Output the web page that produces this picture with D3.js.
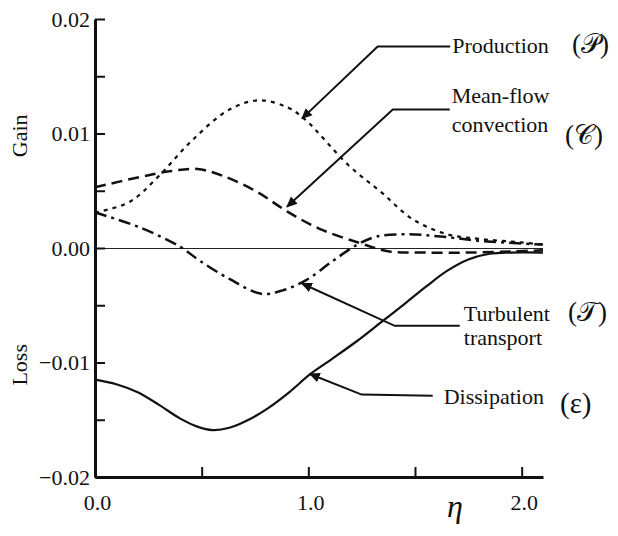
<!DOCTYPE html>
<html lang="en">
<head>
<meta charset="UTF-8">
<script src="https://d3js.org/d3.v7.min.js"></script>
<style>
  body { margin: 0; background: #fff; }
  svg text { font-family: "Liberation Serif", "Times New Roman", serif; fill: #111; }
</style>
</head>
<body>
<div id="chart"></div>
<script>
// values (eta, budget term)
const productionEta = [0, 0.16, 0.30, 0.45, 0.63, 0.77, 0.90, 0.98, 1.19, 1.34, 1.49, 1.65, 1.80, 1.99, 2.1];
const productionVal = [0.0031, 0.0040, 0.0063, 0.0093, 0.0121, 0.0129, 0.0123, 0.0113, 0.0072, 0.0049, 0.0025, 0.0012, 0.0008, 0.0005, 0.0003];

const convectionEta = [0, 0.21, 0.35, 0.48, 0.60, 0.76, 0.90, 1.05, 1.23, 1.38, 1.55, 1.75, 1.95, 2.1];
const convectionVal = [0.0053, 0.0062, 0.0067, 0.0069, 0.0063, 0.0049, 0.0032, 0.0017, 0.0005, -0.0003, -0.0004, -0.0004, -0.0003, -0.0002];

const transportEta = [0, 0.21, 0.40, 0.49, 0.63, 0.78, 0.88, 0.99, 1.11, 1.23, 1.32, 1.46, 1.62, 1.82, 2.1];
const transportVal = [0.0031, 0.0018, 0.0001, -0.0011, -0.0027, -0.0040, -0.0037, -0.0028, -0.0012, 0.0003, 0.0010, 0.0012, 0.0010, 0.0006, 0.0003];

const dissipationEta = [0, 0.10, 0.20, 0.30, 0.40, 0.48, 0.55, 0.63, 0.72, 0.81, 0.91, 1.01, 1.11, 1.23, 1.34, 1.45, 1.55, 1.65, 1.75, 1.85, 1.95, 2.1];
const dissipationVal = [-0.0115, -0.0119, -0.0126, -0.0137, -0.0149, -0.0156, -0.0159, -0.0157, -0.0150, -0.0140, -0.0126, -0.0110, -0.0097, -0.0081, -0.0065, -0.0049, -0.0034, -0.0020, -0.0010, -0.0005, -0.0004, -0.0004];

const xTicks = [0, 0.5, 1.0, 1.5, 2.0];
const xTickLabels = ["0.0", "", "1.0", "", "2.0"];
const yTicks = [-0.02, -0.015, -0.01, -0.005, 0, 0.005, 0.01, 0.015, 0.02];
const yTickLabels = ["\u22120.02", "", "\u22120.01", "", "0.00", "", "0.01", "", "0.02"];

// callout leaders, in data units: label end -> elbow -> arrow tip
const callouts = [
  { lines: ["Production"], sym: "(\uD835\uDCAB)", pts: [[1.665, 0.0176], [1.325, 0.0176], [0.97, 0.0113]] },
  { lines: ["Mean-flow", "convection"], sym: "(\uD835\uDC9E)", pts: [[1.663, 0.0121], [1.396, 0.0121], [0.90, 0.0036]] },
  { lines: ["Turbulent", "transport"], sym: "(\uD835\uDCAF)", pts: [[1.71, -0.0068], [1.405, -0.0068], [0.97, -0.0031]] },
  { lines: ["Dissipation"], sym: "(\u03B5)", pts: [[1.583, -0.0129], [1.25, -0.0128], [1.007, -0.0110]] }
];

const W = 618, H = 536;
const x = d3.scaleLinear().domain([0, 2.1]).range([95, 543]);
const y = d3.scaleLinear().domain([-0.02, 0.02]).range([477, 19]);

const svg = d3.select("#chart").append("svg")
    .attr("width", W).attr("height", H);

svg.append("defs").append("marker")
    .attr("id", "head")
    .attr("viewBox", "0 0 10 10")
    .attr("refX", 9).attr("refY", 5)
    .attr("markerWidth", 11).attr("markerHeight", 11)
    .attr("markerUnits", "userSpaceOnUse")
    .attr("orient", "auto")
  .append("path")
    .attr("d", "M0,0.5 L10,5 L0,9.5 Z")
    .attr("fill", "#111");

// thin zero line
svg.append("line")
    .attr("x1", x(0)).attr("x2", x(2.1))
    .attr("y1", Math.round(y(0)) + 0.5).attr("y2", Math.round(y(0)) + 0.5)
    .attr("stroke", "#222").attr("stroke-width", 1);

// curves
const line = d3.line()
    .x(d => x(d[0])).y(d => y(d[1]))
    .curve(d3.curveCatmullRom);

const series = [
  { eta: productionEta, val: productionVal, dash: "4,5", w: 2.2 },
  { eta: convectionEta, val: convectionVal, dash: "11,6", w: 2.5 },
  { eta: transportEta, val: transportVal, dash: "12,5,3,5", w: 2.5 },
  { eta: dissipationEta, val: dissipationVal, dash: null, w: 2.2 }
];

svg.selectAll("path.curve")
  .data(series)
  .enter()
  .append("path")
    .attr("class", "curve")
    .attr("d", s => line(s.eta.map((e, i) => [e, s.val[i]])))
    .attr("fill", "none")
    .attr("stroke", "#111")
    .attr("stroke-width", s => s.w)
    .attr("stroke-dasharray", s => s.dash);

// axes, ticks pointing inward
const xAxis = svg.append("g")
    .attr("transform", "translate(0," + y(-0.02) + ")")
    .call(d3.axisBottom(x).tickValues(xTicks)
      .tickFormat((d, i) => xTickLabels[i])
      .tickSize(-10).tickSizeOuter(0).tickPadding(17));

const yAxis = svg.append("g")
    .attr("transform", "translate(" + x(0) + ",0)")
    .call(d3.axisLeft(y).tickValues(yTicks)
      .tickFormat((d, i) => yTickLabels[i])
      .tickSize(-10).tickSizeOuter(0).tickPadding(5));

[xAxis, yAxis].forEach(g => {
  g.select(".domain").attr("stroke", "#111").attr("stroke-width", 3);
  g.selectAll(".tick line").attr("stroke", "#111").attr("stroke-width", 2);
  g.selectAll(".tick text")
    .style("font-family", "'Liberation Serif', serif")
    .style("font-size", "22px")
    .attr("fill", "#111");
});
xAxis.selectAll(".tick text").attr("dx", 2);

// axis titles
svg.append("text")
    .attr("transform", "translate(27," + y(0.0098) + ") rotate(-90)")
    .attr("text-anchor", "middle")
    .style("font-size", "22px")
    .text("Gain");
svg.append("text")
    .attr("transform", "translate(27," + y(-0.0102) + ") rotate(-90)")
    .attr("text-anchor", "middle")
    .style("font-size", "22px")
    .text("Loss");
svg.append("text")
    .attr("x", 455).attr("y", 517)
    .attr("text-anchor", "middle")
    .style("font-size", "32px")
    .style("font-style", "italic")
    .text("\u03B7");

// callouts
const leader = d3.line().x(d => x(d[0])).y(d => y(d[1]));
callouts.forEach(c => {
  svg.append("path")
      .attr("d", leader(c.pts))
      .attr("fill", "none")
      .attr("stroke", "#111")
      .attr("stroke-width", 2)
      .attr("marker-end", "url(#head)");
});

const lx = c => x(c.pts[0][0]) + 2;
const ly = c => y(c.pts[0][1]);

// label text, placed from the leader end
const p0 = callouts[0], p1 = callouts[1], p2 = callouts[2], p3 = callouts[3];
const lab = (t, xx, yy, size) => svg.append("text")
    .attr("x", xx).attr("y", yy)
    .style("font-size", size + "px")
    .text(t);

lab(p0.lines[0], lx(p0), ly(p0) + 7, 22);
lab(p0.sym, 572, ly(p0) + 7, 27);

lab(p1.lines[0], lx(p1), ly(p1) - 6, 22);
lab(p1.lines[1], lx(p1), ly(p1) + 23, 22);
lab(p1.sym, 565, ly(p1) + 35, 27);

lab(p2.lines[0], lx(p2) + 2, ly(p2) - 5, 22);
lab(p2.lines[1], lx(p2) + 2, ly(p2) + 19, 22);
lab(p2.sym, 568, ly(p2) - 5, 27);

lab(p3.lines[0], lx(p3) + 9, ly(p3) + 8, 22);
lab(p3.sym, 560, ly(p3) + 17, 29);
</script>
</body>
</html>
